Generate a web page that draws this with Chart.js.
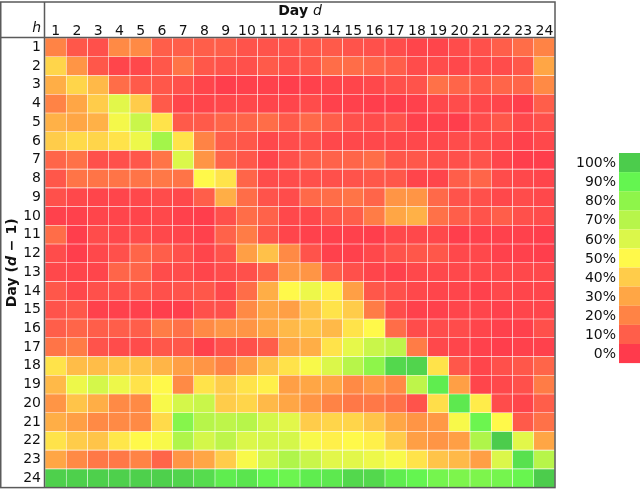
<!DOCTYPE html>
<html>
<head>
<meta charset="utf-8">
<script src="https://cdn.jsdelivr.net/npm/chart.js@4.4.1/dist/chart.umd.min.js"></script>
<style>
  html, body { margin: 0; padding: 0; background: #fff; }
</style>
</head>
<body>
<canvas id="heat" width="640" height="500"></canvas>
<script>
// day d (columns) and hour h (rows)
const dayLabels = ['1','2','3','4','5','6','7','8','9','10','11','12','13','14','15','16','17','18','19','20','21','22','23','24'];
const hourRows = [1,2,3,4,5,6,7,8,9,10,11,12,13,14,15,16,17,18,19,20,21,22,23,24];

// share in % for each row h, columns d = 1..24
const shareRows = [
  [20, 8, 6,22,22,10,10,10,10, 7, 7, 7,  8, 9, 7, 6, 5, 3, 3, 5, 6,10,14,20],
  [42,25, 8, 3, 4, 8,16, 8, 7, 6, 9, 6,  8,14,14,12,10, 5, 5, 4, 5, 5, 8,30],
  [32,42,35,14, 9, 8, 6, 3, 1, 2, 2, 1,  2, 3, 3, 4, 6, 7,15,12, 9,12,12,22],
  [20,30,40,58,40, 9, 3, 3, 4, 4, 3, 3,  5, 2, 2, 1, 1, 2, 4, 5, 4, 3, 1,10],
  [33,30,33,53,65,45, 9, 9,12,12,14, 9, 13,10, 6, 5, 7, 2, 2, 1, 5, 8, 4, 6],
  [40,43,42,45,55,75,45,20,10, 8, 4, 5,  6, 4, 4, 4, 4, 4, 4, 5, 5, 4, 2, 4],
  [12,15, 6, 6, 8,16,60,25,12, 8, 3, 6, 10,11,12,14, 8, 8, 6, 6, 7, 3, 1, 1],
  [ 8,16,16,16,16,17,16,50,45,12, 5, 5,  6, 6, 7, 8, 8, 3, 3,10,12, 5, 4, 3],
  [ 6, 4, 3, 3, 4, 5, 4,10,32,14, 7, 5, 13,14,16,12,25,25,13, 7, 6, 4, 5, 4],
  [ 2, 2, 3, 3, 3, 4, 2, 1, 6,14,11, 4,  4, 8,10,18,30,33,15,10, 7,10, 6, 5],
  [14, 1, 5, 4, 5, 4, 3, 2,11,18, 8, 3,  2, 2, 2, 1, 4, 4, 4, 1, 2, 2, 2, 1],
  [ 5, 1, 4, 6,12,10, 6, 3, 7,28,37,22,  7, 2, 2, 4, 7, 8, 8, 4, 4, 2, 2, 1],
  [ 4, 3, 3,12,12, 5, 5, 3, 5, 6,12,26, 25,10, 6, 3, 2, 4, 4, 4, 4, 4, 4, 4],
  [ 8, 4, 6, 6, 8, 6, 7, 8, 4,14,32,50, 55,48,28, 8, 6, 4, 3, 3, 2, 4, 3, 3],
  [ 7, 8, 2, 2, 2, 1, 1, 6, 6,22,30,28, 38,45,40,18, 5, 2, 2, 3, 3, 2, 3, 3],
  [10,12,10,10,10,18,15,22,25,25,30,35, 38,35,45,50,14, 5, 5, 5, 3, 2, 2, 6],
  [16,18, 7, 5, 5, 8, 8, 2, 6, 6,10,30, 32,45,57,65,68,18, 4, 3, 2, 1, 2, 2],
  [45,36,36,38,38,34,28,25,20,28,38,45, 52,60,70,80,97,98,45, 8, 3, 6, 8,12],
  [35,55,62,55,45,50,22,45,40,45,48,28, 30,30,22,26,22,68,92,28, 3, 4, 6,18],
  [25,38,32,22,22,52,62,65,40,42,35,30, 25,20,17,17,15, 7,44,93,47, 5, 3,10],
  [32,28,22,22,22,43,82,70,68,70,62,58, 40,42,42,38,30,25,26,52,88,50, 9,15],
  [45,40,38,46,50,52,72,62,68,60,62,62, 52,48,50,48,40,28,25,28,72,100,58,30],
  [30,22,17,17,20,12,25,30,40,52,62,72, 65,58,58,55,52,45,38,35,28,60,95,70],
  [99,99,99,99,99,99,98,96,92,94,90,88, 92,93,97,97,92,90,86,84,84,86,89,100]
];

// colour key, 0% .. 100%
const legendSteps = [0,10,20,30,40,50,60,70,80,90,100];
const legendColors = [
  [255, 58, 76], [255, 94, 74], [255,131, 69], [255,166, 69], [255,204, 74], [255,249, 74],
  [219,247, 74], [183,245, 74], [142,245, 74], [100,245, 80], [ 76,204, 76]
];

function shareColor(v) {
  const t = Math.max(0, Math.min(100, v)) / 10;
  const i = Math.min(9, Math.floor(t));
  const f = t - i;
  const a = legendColors[i], b = legendColors[i + 1];
  const c = a.map((x, k) => Math.round(x + (b[k] - x) * f));
  return 'rgb(' + c.join(',') + ')';
}

const FONT = 'DejaVu Sans';

// titles, frame and colour key
const decorPlugin = {
  id: 'decor',
  afterDraw(chart) {
    const ctx = chart.ctx;
    const area = chart.chartArea;
    ctx.save();

    // frame
    ctx.strokeStyle = '#5a5a5a';
    ctx.lineWidth = 1.5;
    ctx.strokeRect(0.75, 2, area.right - 0.75, area.bottom - 2);
    ctx.beginPath();
    ctx.moveTo(area.left - 0.5, 2);
    ctx.lineTo(area.left - 0.5, area.bottom);
    ctx.moveTo(0, area.top - 0.5);
    ctx.lineTo(area.right, area.top - 0.5);
    ctx.stroke();

    ctx.fillStyle = '#111';
    ctx.textBaseline = 'middle';

    // top title: Day d
    const bold = 'bold 14px ' + FONT;
    const ital = 'italic 14px ' + FONT;
    ctx.font = bold;
    const w1 = ctx.measureText('Day ').width;
    ctx.font = ital;
    const w2 = ctx.measureText('d').width;
    let x = (area.left + area.right) / 2 - (w1 + w2) / 2;
    ctx.textAlign = 'left';
    ctx.font = bold;
    ctx.fillText('Day ', x, 11);
    ctx.font = ital;
    ctx.fillText('d', x + w1, 11);

    // corner label h
    ctx.textAlign = 'right';
    ctx.font = ital;
    ctx.fillText('h', 41, 28);

    // left title: Day (d − 1)
    const parts = [['Day (', bold], ['d', 'bold italic 14px ' + FONT], [' \u2212 1)', bold]];
    const widths = parts.map(p => { ctx.font = p[1]; return ctx.measureText(p[0]).width; });
    const total = widths.reduce((s, w) => s + w, 0);
    ctx.translate(12, (area.top + area.bottom) / 2);
    ctx.rotate(-Math.PI / 2);
    ctx.textAlign = 'left';
    let px = -total / 2;
    parts.forEach((p, k) => {
      ctx.font = p[1];
      ctx.fillText(p[0], px, 0);
      px += widths[k];
    });
    ctx.setTransform(1, 0, 0, 1, 0, 0);

    // colour key
    const keyTop = 153, keyH = 19.1;
    ctx.font = '14px ' + FONT;
    ctx.textAlign = 'right';
    legendSteps.slice().reverse().forEach((v, k) => {
      const y = keyTop + k * keyH;
      ctx.fillStyle = shareColor(v);
      ctx.fillRect(619, y, 22, keyH);
      ctx.fillStyle = '#111';
      ctx.fillText(v + '%', 616, y + keyH / 2 + 1);
    });
    ctx.restore();
  }
};

const datasets = hourRows.map((h, i) => ({
  label: 'h' + h,
  data: dayLabels.map(() => [h - 0.5, h + 0.5]),
  backgroundColor: shareRows[i].map(shareColor),
  borderColor: 'rgba(255,255,255,0.12)',
  borderWidth: 0.6,
  borderSkipped: false,
  grouped: false,
  barPercentage: 1,
  categoryPercentage: 1
}));

new Chart(document.getElementById('heat'), {
  type: 'bar',
  data: { labels: dayLabels, datasets: datasets },
  options: {
    responsive: false,
    animation: false,
    layout: { padding: { left: 0, right: 85, top: 0, bottom: 2 } },
    plugins: {
      legend: { display: false },
      tooltip: { enabled: false }
    },
    scales: {
      x: {
        position: 'top',
        offset: true,
        grid: { display: false, drawTicks: false },
        border: { display: false },
        ticks: { color: '#111', font: { family: FONT, size: 14 }, padding: -2, maxRotation: 0, autoSkip: false },
        afterFit(scale) { scale.height = 38; }
      },
      y: {
        type: 'linear',
        reverse: true,
        min: 0.5,
        max: 24.5,
        grid: { display: false, drawTicks: false },
        border: { display: false },
        afterBuildTicks(scale) { scale.ticks = hourRows.map(v => ({ value: v })); },
        ticks: { color: '#111', font: { family: FONT, size: 14 }, padding: 4, autoSkip: false },
        afterFit(scale) { scale.width = 45; }
      }
    }
  },
  plugins: [decorPlugin]
});
</script>
</body>
</html>
